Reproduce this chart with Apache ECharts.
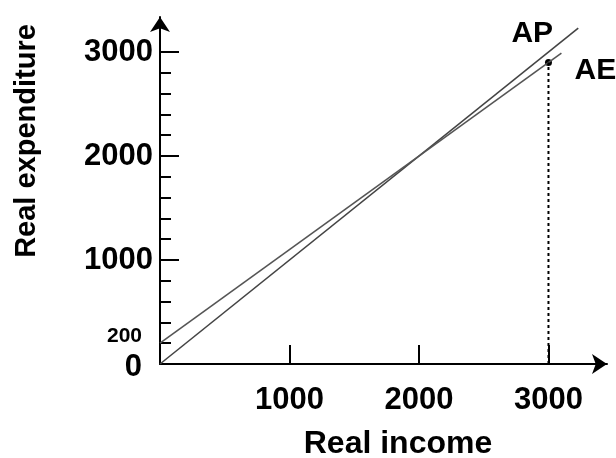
<!DOCTYPE html>
<html><head><meta charset="utf-8">
<script src="https://cdn.jsdelivr.net/npm/echarts@6/dist/echarts.min.js"></script>
<style>html,body{margin:0;padding:0;background:#fff}#c{width:616px;height:458px}</style>
</head><body><div id="c"></div>
<script>
// ---- data ----
const apLine = [[0, 0], [3230, 3230]];          // aggregate production (45° line)
const aeLine = [[0, 200], [3100, 2990]];        // aggregate expenditure
const equilibriumPoint = [3000, 2900];
const dropLine = [[3000, 0], [3000, 2900]];
const xTickValues = [1000, 2000, 3000];
const yTickValues = [1000, 2000, 3000];
const yMinorTickValues = [200, 400, 600, 800, 1200, 1400, 1600, 1800, 2200, 2400, 2600, 2800];
const yExtraLabelValues = [0, 200];
const lineNames = ['AP', 'AE'];
const xAxisTitle = 'Real income';
const yAxisTitle = 'Real expenditure';
const xMax = 3452, yMax = 3337;

const FONT = 'Liberation Sans, Arial, sans-serif';
const chart = echarts.init(document.getElementById('c'));
chart.setOption({
  animation: false,
  backgroundColor: '#fff',
  grid: { left: 160, right: 9, top: 17, bottom: 94, containLabel: false },
  xAxis: {
    type: 'value', min: 0, max: xMax,
    splitLine: { show: false },
    axisLine: { lineStyle: { color: '#000', width: 2 }, symbol: ['none', 'arrow'], symbolSize: [15, 15] },
    axisTick: { inside: true, length: 19, customValues: xTickValues, lineStyle: { color: '#000', width: 2 } },
    axisLabel: { customValues: xTickValues, formatter: v => String(v), margin: 21, color: '#000', fontFamily: FONT, fontWeight: 'bold', fontSize: 31 }
  },
  yAxis: [{
    type: 'value', min: 0, max: yMax, position: 'left',
    splitLine: { show: false },
    axisLine: { lineStyle: { color: '#000', width: 2 }, symbol: ['none', 'arrow'], symbolSize: [15, 15] },
    axisTick: { inside: true, length: 19, customValues: yTickValues, lineStyle: { color: '#000', width: 2 } },
    axisLabel: { customValues: yTickValues, formatter: v => String(v), margin: 7, color: '#000', fontFamily: FONT, fontWeight: 'bold', fontSize: 31 }
  }, {
    type: 'value', min: 0, max: yMax, position: 'left', offset: 0,
    splitLine: { show: false },
    axisLine: { show: false },
    axisTick: { show: true, inside: true, length: 11, customValues: yMinorTickValues.concat([200]), lineStyle: { color: '#000', width: 2 } },
    axisLabel: {
      customValues: yExtraLabelValues, margin: 18, verticalAlign: 'middle', color: '#000', fontFamily: FONT, fontWeight: 'bold',
      formatter: v => v === 0 ? '{big|' + v + '}' : '{small|' + v + '}',
      rich: {
        big: { fontSize: 31, fontWeight: 'bold', fontFamily: FONT, color: '#000', padding: [6, 0, 0, 0] },
        small: { fontSize: 21, fontWeight: 'bold', fontFamily: FONT, color: '#000', padding: [0, 0, 14, 0] }
      }
    }
  }],
  graphic: [
    { type: 'text', style: { text: xAxisTitle, font: 'bold 32px ' + FONT, fill: '#000', align: 'center', verticalAlign: 'middle' }, x: 398, y: 444 },
    { type: 'text', rotation: Math.PI / 2, style: { text: yAxisTitle, font: 'bold 29px ' + FONT, fill: '#000', align: 'center', verticalAlign: 'middle' }, x: 27, y: 141 }
  ],
  series: [
    { name: lineNames[0], type: 'line', data: apLine, symbol: 'none', lineStyle: { color: '#444', width: 1.6 } },
    { name: lineNames[1], type: 'line', data: aeLine, symbol: 'none', lineStyle: { color: '#555', width: 1.6 } },
    { type: 'line', data: dropLine, symbol: 'none', lineStyle: { color: '#000', width: 2, type: [3, 3] } },
    { type: 'scatter', data: [equilibriumPoint], symbol: 'circle', symbolSize: 7, itemStyle: { color: '#000', opacity: 1 } },
    { type: 'scatter', symbolSize: 1, itemStyle: { color: 'rgba(0,0,0,0)', opacity: 1 }, silent: true,
      data: [
        { value: apLine[1], label: { show: true, formatter: lineNames[0], offset: [-46, 6] } },
        { value: aeLine[1], label: { show: true, formatter: lineNames[1], offset: [34, 18] } }
      ],
      label: { position: 'inside', color: '#000', fontFamily: FONT, fontWeight: 'bold', fontSize: 30 } }
  ]
});
</script></body></html>
